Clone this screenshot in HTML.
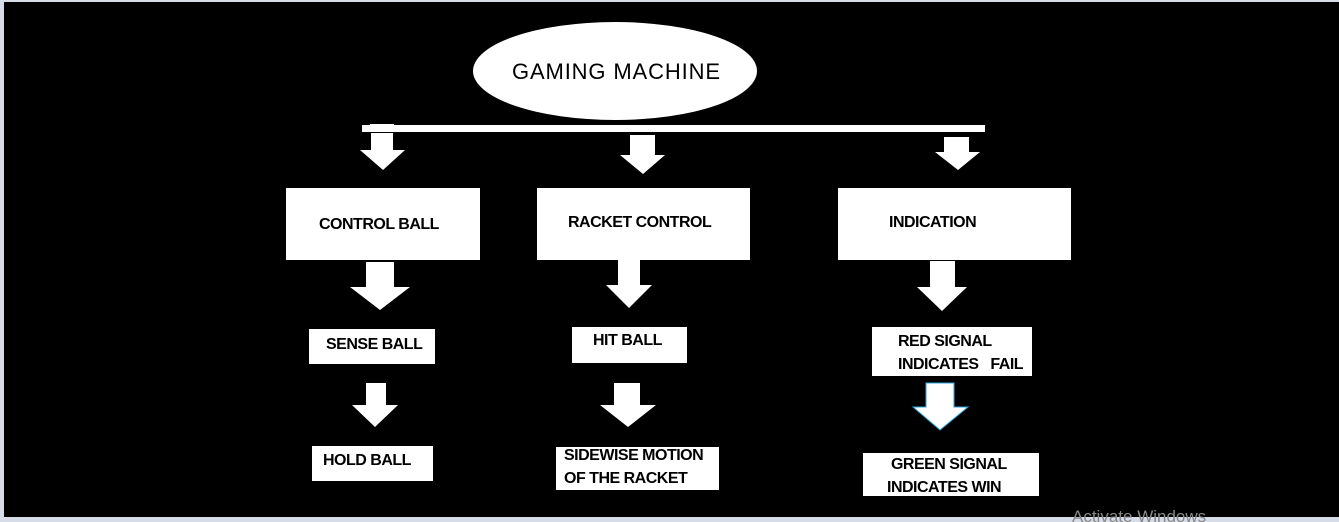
<!DOCTYPE html>
<html><head><style>
body{margin:0;width:1339px;height:522px;overflow:hidden;background:#d6dce8;position:relative;font-family:"Liberation Sans",sans-serif}
#bg{position:absolute;left:4px;top:2px;width:1335px;height:515px;background:#000}
.b{position:absolute;background:#fff;color:#000;font-weight:bold;font-size:16px;letter-spacing:-0.5px;line-height:23px}
.b span{position:absolute}
svg{position:absolute;left:0;top:0}
</style></head><body>
<div id="bg"></div>
<svg width="1339" height="522">
<ellipse cx="615" cy="71" rx="142" ry="49" fill="#fff"/>
<text x="616" y="79" text-anchor="middle" font-family="Liberation Sans,sans-serif" font-size="22" fill="#000" textLength="208">GAMING MACHINE</text>
<rect x="362" y="125" width="623" height="7" fill="#fff"/>
<rect x="370" y="124" width="24" height="3" fill="#fff"/>
<g fill="#fff">
<polygon points="371,133 393,133 393,150 405,150 383,170 360,150 371,150"/>
<polygon points="630,135 655,135 655,155 665,155 643,174 620,155 630,155"/>
<polygon points="944,137 969,137 969,152 980,152 958,170 935,152 944,152"/>
<polygon points="366,262 394,262 394,287 410,287 380,310 350,287 366,287"/>
<polygon points="618,260 640,260 640,285 652,285 629,308 606,285 618,285"/>
<polygon points="930,261 955,261 955,287 967,287 942,311 917,287 930,287"/>
<polygon points="366,383 386,383 386,405 398,405 375,427 352,405 366,405"/>
<polygon points="614,383 640,383 640,405 656,405 628,427 600,405 614,405"/>
<polygon points="926,383 954,383 954,407 968,407 940,430 913,407 926,407" stroke="#29a3e0" stroke-width="1"/>
</g>
<text x="1072" y="522" font-family="Liberation Sans,sans-serif" font-size="17" fill="#888">Activate Windows</text>
</svg>
<div class="b" style="left:286px;top:188px;width:194px;height:72px"><span style="left:33px;top:25px">CONTROL BALL</span></div>
<div class="b" style="left:537px;top:188px;width:213px;height:72px"><span style="left:31px;top:23px">RACKET CONTROL</span></div>
<div class="b" style="left:838px;top:188px;width:233px;height:72px"><span style="left:51px;top:23px">INDICATION</span></div>
<div class="b" style="left:309px;top:329px;width:126px;height:35px"><span style="left:17px;top:4px">SENSE BALL</span></div>
<div class="b" style="left:572px;top:327px;width:115px;height:36px"><span style="left:21px;top:2px">HIT BALL</span></div>
<div class="b" style="left:872px;top:327px;width:160px;height:49px"><span style="left:26px;top:3px;white-space:pre">RED SIGNAL
INDICATES   FAIL</span></div>
<div class="b" style="left:312px;top:446px;width:121px;height:35px"><span style="left:11px;top:3px">HOLD BALL</span></div>
<div class="b" style="left:556px;top:447px;width:163px;height:43px"><span style="left:8px;top:-3px;white-space:pre">SIDEWISE MOTION
OF THE RACKET</span></div>
<div class="b" style="left:863px;top:453px;width:176px;height:43px"><span style="left:24px;top:0px;white-space:pre"> GREEN SIGNAL
INDICATES WIN</span></div>
</body></html>
